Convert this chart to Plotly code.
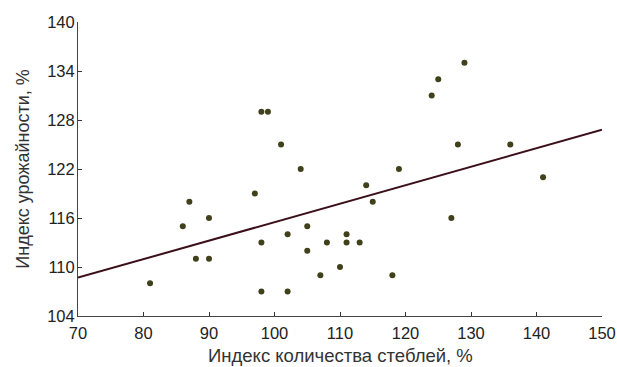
import plotly.graph_objects as go

stem_index = [81, 86, 87, 88, 90, 90, 97, 98, 98, 98, 99, 101, 102, 102, 104,
              105, 105, 107, 108, 110, 111, 111, 113, 114, 115, 118, 119,
              124, 125, 127, 128, 129, 136, 141]
yield_index = [108, 115, 118, 111, 116, 111, 119, 113, 107, 129, 129, 125, 114, 107, 122,
               115, 112, 109, 113, 110, 114, 113, 113, 120, 118, 109, 122,
               131, 133, 116, 125, 135, 125, 121]

trend_x = [70, 150]
trend_y = [108.7, 126.8]

x_ticks = [70, 80, 90, 100, 110, 120, 130, 140, 150]
y_ticks = [104, 110, 116, 122, 128, 134, 140]

x_title = "Индекс количества стеблей, %"
y_title = "Индекс урожайности, %"

fig = go.Figure()
fig.add_trace(go.Scatter(x=trend_x, y=trend_y, mode="lines",
                         line=dict(color="#3a0f1a", width=2), showlegend=False))
fig.add_trace(go.Scatter(x=stem_index, y=yield_index, mode="markers",
                         marker=dict(color="#40401a", size=6), showlegend=False))

font = "Liberation Sans, Arial, sans-serif"
fig.update_layout(
    width=617, height=367,
    margin=dict(l=78, r=15, t=22, b=51),
    paper_bgcolor="white", plot_bgcolor="white",
    font=dict(family=font, size=16, color="#222"),
    xaxis=dict(range=[70, 150], tickvals=x_ticks, ticks="inside", ticklen=4,
               tickcolor="#333", showline=True, linecolor="#444", linewidth=1,
               showgrid=False, zeroline=False, automargin=False, ticklabelstandoff=2,
               tickfont=dict(size=16.5, color="#222")),
    yaxis=dict(range=[104, 140], tickvals=y_ticks, ticks="inside", ticklen=4,
               tickcolor="#333", showline=True, linecolor="#444", linewidth=1,
               showgrid=False, zeroline=False, automargin=False, ticklabelstandoff=-1,
               title=dict(text=y_title, font=dict(size=18, color="#333"), standoff=12),
               tickfont=dict(size=16.5, color="#222")),
)
fig.add_annotation(text=x_title, xref="paper", yref="paper", x=0.5, y=0,
                   xanchor="center", yanchor="middle", yshift=-39, showarrow=False,
                   font=dict(size=18.5, color="#333", family=font))
fig.write_html("out.html")
